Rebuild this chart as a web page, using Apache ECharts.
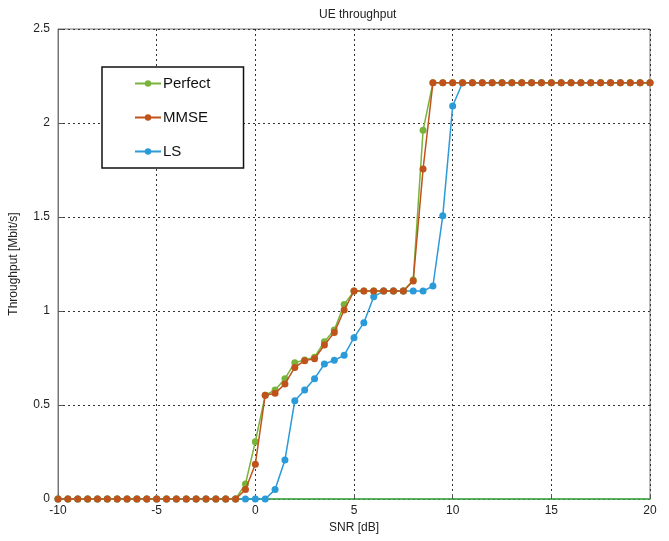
<!DOCTYPE html>
<html>
<head>
<meta charset="utf-8">
<script src="https://cdn.jsdelivr.net/npm/echarts@6/dist/echarts.min.js"></script>
<style>
  html, body { margin: 0; padding: 0; background: #fff; }
  #chart { width: 669px; height: 541px; }
</style>
</head>
<body>
<div id="chart"></div>
<script>
// SNR axis (dB), 0.5 dB steps
const snr = [
  -10, -9.5, -9, -8.5, -8, -7.5, -7, -6.5, -6, -5.5, -5, -4.5, -4, -3.5, -3, -2.5, -2, -1.5, -1, -0.5,
  0, 0.5, 1, 1.5, 2, 2.5, 3, 3.5, 4, 4.5, 5, 5.5, 6, 6.5, 7, 7.5, 8, 8.5, 9, 9.5,
  10, 10.5, 11, 11.5, 12, 12.5, 13, 13.5, 14, 14.5, 15, 15.5, 16, 16.5, 17, 17.5, 18, 18.5, 19, 19.5, 20
];

const perfect = [
  0, 0, 0, 0, 0, 0, 0, 0, 0, 0, 0, 0, 0, 0, 0, 0, 0, 0, 0, 0.08,
  0.305, 0.552, 0.58, 0.64, 0.725, 0.74, 0.754, 0.837, 0.899, 1.035, 1.106, 1.106, 1.106, 1.106, 1.106, 1.106, 1.165, 1.961, 2.214, 2.214,
  2.214, 2.214, 2.214, 2.214, 2.214, 2.214, 2.214, 2.214, 2.214, 2.214, 2.214, 2.214, 2.214, 2.214, 2.214, 2.214, 2.214, 2.214, 2.214, 2.214, 2.214
];

const mmse = [
  0, 0, 0, 0, 0, 0, 0, 0, 0, 0, 0, 0, 0, 0, 0, 0, 0, 0, 0, 0.05,
  0.185, 0.552, 0.562, 0.612, 0.70, 0.736, 0.746, 0.819, 0.885, 1.005, 1.106, 1.106, 1.106, 1.106, 1.106, 1.106, 1.16, 1.755, 2.214, 2.214,
  2.214, 2.214, 2.214, 2.214, 2.214, 2.214, 2.214, 2.214, 2.214, 2.214, 2.214, 2.214, 2.214, 2.214, 2.214, 2.214, 2.214, 2.214, 2.214, 2.214, 2.214
];

const ls = [
  0, 0, 0, 0, 0, 0, 0, 0, 0, 0, 0, 0, 0, 0, 0, 0, 0, 0, 0, 0,
  0, 0, 0.05, 0.207, 0.523, 0.58, 0.64, 0.718, 0.738, 0.764, 0.858, 0.938, 1.076, 1.106, 1.106, 1.106, 1.106, 1.106, 1.133, 1.507,
  2.09, 2.214, 2.214, 2.214, 2.214, 2.214, 2.214, 2.214, 2.214, 2.214, 2.214, 2.214, 2.214, 2.214, 2.214, 2.214, 2.214, 2.214, 2.214, 2.214, 2.214
];

const legendNames = ['Perfect', 'MMSE', 'LS'];
const colors = { Perfect: '#78b43c', MMSE: '#c0531c', LS: '#2a9ad8' };

function pairs(ys) {
  return snr.map((x, i) => [x, ys[i]]);
}

function makeSeries(name, ys, z) {
  return {
    name: name,
    type: 'line',
    data: pairs(ys),
    z: z,
    symbol: 'circle',
    symbolSize: 7,
    showSymbol: true,
    animation: false,
    itemStyle: { color: colors[name] },
    lineStyle: { color: colors[name], width: 1.5 }
  };
}

const chart = echarts.init(document.getElementById('chart'));

const dotted = { color: '#333', type: [2, 3], width: 1 };

chart.setOption({
  backgroundColor: '#fff',
  textStyle: { fontFamily: 'Liberation Sans, Arial, sans-serif' },
  title: {
    text: 'UE throughput',
    left: 314,
    top: 4,
    textStyle: { fontSize: 12, fontWeight: 'normal', color: '#222' }
  },
  legend: {
    data: legendNames,
    orient: 'vertical',
    left: 102,
    top: 67,
    padding: [9, 33, 9, 32],
    itemGap: 19,
    itemWidth: 26,
    itemHeight: 8,
    borderColor: '#111',
    borderWidth: 1.5,
    backgroundColor: '#fff',
    textStyle: { fontSize: 15, color: '#111', padding: [0, 0, 0, -3] }
  },
  grid: {
    left: 58,
    right: 19,
    top: 29,
    bottom: 42,
    show: true,
    borderColor: '#777',
    borderWidth: 1
  },
  xAxis: {
    type: 'value',
    min: -10,
    max: 20,
    interval: 5,
    name: 'SNR [dB]',
    nameLocation: 'middle',
    nameGap: 22,
    nameTextStyle: { fontSize: 12, color: '#222' },
    axisLine: { show: true, onZero: false, lineStyle: { color: '#3cb043', width: 1.5 } },
    axisTick: { show: true, inside: true, length: 5, lineStyle: { color: '#555' } },
    axisLabel: { fontSize: 12, color: '#222', margin: 6 },
    splitLine: { show: true, lineStyle: dotted }
  },
  yAxis: {
    type: 'value',
    min: 0,
    max: 2.5,
    interval: 0.5,
    name: 'Throughput [Mbit/s]',
    nameLocation: 'middle',
    nameGap: 38,
    nameTextStyle: { fontSize: 12, color: '#222' },
    axisLine: { show: true, onZero: false, lineStyle: { color: '#777', width: 1 } },
    axisTick: { show: true, inside: true, length: 5, lineStyle: { color: '#555' } },
    axisLabel: { fontSize: 12, color: '#222', margin: 8 },
    splitLine: { show: true, lineStyle: dotted }
  },
  series: [
    makeSeries('LS', ls, 2),
    makeSeries('Perfect', perfect, 3),
    makeSeries('MMSE', mmse, 4)
  ]
});

window.addEventListener('resize', () => chart.resize());
</script>
</body>
</html>
